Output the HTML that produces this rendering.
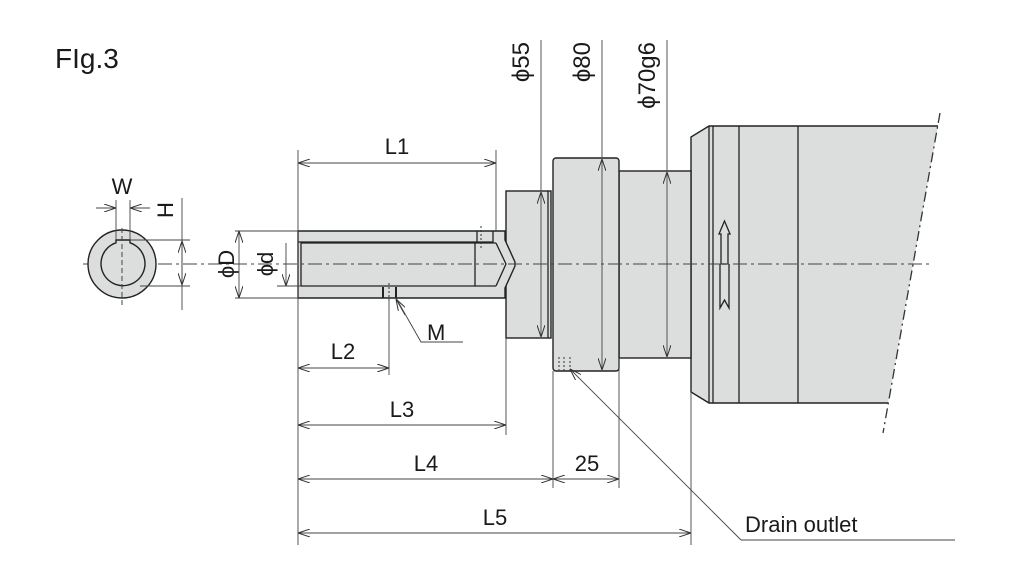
<!DOCTYPE html>
<html><head><meta charset="utf-8"><style>
html,body{margin:0;padding:0;background:#fff;}
svg{display:block;}
text{font-family:"Liberation Sans","DejaVu Sans",sans-serif;fill:#1a1a1a;}
</style></head><body>
<svg width="1024" height="577" viewBox="0 0 1024 577" xmlns="http://www.w3.org/2000/svg">
<defs>
<marker id="a" viewBox="0 0 12 8" refX="12" refY="4" markerWidth="12" markerHeight="8" orient="auto-start-reverse" markerUnits="userSpaceOnUse">
<path d="M0,0 L12,4 L0,8" fill="none" stroke="#333" stroke-width="1"/>
</marker>
</defs>
<text x="55" y="68" font-size="28">FIg.3</text>

<!-- motor body fill + outline without right edge -->
<path d="M691,137 L709,126 L938,126 L888,403 L709,403 L691,392 Z" fill="#dcdddd" stroke="none"/>
<path d="M938,126 L709,126 L691,137 L691,392 L709,403 L888,403" fill="none" stroke="#222" stroke-width="1.4"/>
<g fill="#dcdddd" stroke="#222" stroke-width="1.4">
<rect x="619" y="171" width="72" height="187"/>
<rect x="553" y="158" width="66" height="213" rx="3"/>
<rect x="506" y="191" width="45" height="147"/>
<path d="M298,231 L505,231 L505,240 L515,262 L515,266 L505,288 L505,298 L298,298 Z"/>
</g>
<g fill="none" stroke="#222" stroke-width="1.3">
<line x1="548" y1="191" x2="548" y2="338"/>
<line x1="713" y1="126" x2="713" y2="403"/>
<line x1="739" y1="126" x2="739" y2="403"/>
<line x1="798" y1="126" x2="798" y2="403"/>
<line x1="709" y1="126" x2="709" y2="403"/>
<line x1="298" y1="242" x2="493" y2="242"/>
<path d="M301,243 L475,243 L475,286 L301,286 Z"/>
<line x1="475" y1="243" x2="496" y2="243"/>
<line x1="475" y1="286" x2="496" y2="286"/>
<path d="M496,243 L506,264 L496,286"/>
<line x1="477" y1="231" x2="477" y2="243"/>
<line x1="493" y1="231" x2="493" y2="243"/>
<line x1="383" y1="287" x2="383" y2="298" stroke-width="2"/>
<line x1="396" y1="287" x2="396" y2="298" stroke-width="2"/>
<path d="M724.5,221 L719,234 L721,234 L721,264 L728,264 L728,234 L730,234 Z"/>
<path d="M720,264 L720,308 L724.5,300 L729,308 L729,264"/>
</g>
<g stroke="#333" stroke-width="1" stroke-dasharray="2,2">
<line x1="559" y1="357" x2="559" y2="370"/><line x1="564" y1="357" x2="564" y2="372"/><line x1="570" y1="357" x2="570" y2="372"/>
<line x1="481" y1="226" x2="481" y2="248"/><line x1="389" y1="283" x2="389" y2="302"/>
</g>
<line x1="940" y1="113" x2="883" y2="433" stroke="#333" stroke-width="1.3" stroke-dasharray="10,4,2,4"/>
<line x1="83" y1="264" x2="930" y2="264" stroke="#444" stroke-width="1" stroke-dasharray="14,4,3,4"/>

<circle cx="122" cy="264" r="34" fill="#dcdddd" stroke="#222" stroke-width="1.4"/>
<path d="M116,242.8 L116,240 L130,240 L130,242.8 A22,22 0 1 1 116,242.8 Z" fill="#dcdddd" stroke="#222" stroke-width="1.4"/>
<line x1="122" y1="228" x2="122" y2="305" stroke="#444" stroke-width="1" stroke-dasharray="5,3"/>

<g stroke="#444" stroke-width="0.9" fill="none">
<line x1="116" y1="200" x2="116" y2="240"/><line x1="130" y1="200" x2="130" y2="240"/>
<line x1="96" y1="208" x2="116" y2="208" marker-end="url(#a)"/>
<line x1="150" y1="208" x2="130" y2="208" marker-end="url(#a)"/>
<line x1="130" y1="240" x2="190" y2="240"/><line x1="140" y1="286" x2="190" y2="286"/>
<line x1="182" y1="198" x2="182" y2="310"/>
<line x1="182" y1="241" x2="182" y2="285" marker-start="url(#a)" marker-end="url(#a)"/>
<line x1="235" y1="231" x2="298" y2="231"/><line x1="235" y1="298" x2="298" y2="298"/>
<line x1="239" y1="231" x2="239" y2="298" marker-start="url(#a)" marker-end="url(#a)"/>
<line x1="277" y1="286" x2="301" y2="286"/>
<line x1="286" y1="243" x2="286" y2="286" marker-end="url(#a)"/>
<line x1="298" y1="150" x2="298" y2="545"/>
<line x1="496" y1="150" x2="496" y2="231"/>
<line x1="298" y1="163" x2="496" y2="163" marker-start="url(#a)" marker-end="url(#a)"/>
<line x1="389" y1="298" x2="389" y2="375"/>
<line x1="298" y1="368" x2="389" y2="368" marker-start="url(#a)" marker-end="url(#a)"/>
<line x1="506" y1="338" x2="506" y2="435"/>
<line x1="298" y1="425" x2="506" y2="425" marker-start="url(#a)" marker-end="url(#a)"/>
<line x1="553" y1="371" x2="553" y2="488"/>
<line x1="619" y1="358" x2="619" y2="488"/>
<line x1="298" y1="479" x2="553" y2="479" marker-start="url(#a)" marker-end="url(#a)"/>
<line x1="553" y1="479" x2="619" y2="479" marker-start="url(#a)" marker-end="url(#a)"/>
<line x1="691" y1="392" x2="691" y2="545"/>
<line x1="298" y1="533" x2="691" y2="533" marker-start="url(#a)" marker-end="url(#a)"/>
<line x1="541" y1="40" x2="541" y2="191"/>
<line x1="541" y1="192" x2="541" y2="337" marker-start="url(#a)" marker-end="url(#a)"/>
<line x1="602" y1="40" x2="602" y2="158"/>
<line x1="602" y1="159" x2="602" y2="370" marker-start="url(#a)" marker-end="url(#a)"/>
<line x1="667" y1="40" x2="667" y2="171"/>
<line x1="667" y1="172" x2="667" y2="357" marker-start="url(#a)" marker-end="url(#a)"/>
<polyline points="396,298 421,342 463,342"/>
<line x1="405" y1="315" x2="396" y2="299" marker-end="url(#a)"/>
<polyline points="741,540 955,540"/>
<line x1="741" y1="540" x2="570" y2="369" marker-end="url(#a)"/>
</g>

<g font-size="22">
<text x="122" y="194" text-anchor="middle">W</text>
<text transform="translate(173,210) rotate(-90)" text-anchor="middle">H</text>
<text transform="translate(234,264) rotate(-90)" text-anchor="middle">ϕD</text>
<text transform="translate(273,264) rotate(-90)" text-anchor="middle">ϕd</text>
<text x="397" y="154" text-anchor="middle">L1</text>
<text x="427" y="340">M</text>
<text x="343" y="359" text-anchor="middle">L2</text>
<text x="402" y="417" text-anchor="middle">L3</text>
<text x="426" y="471" text-anchor="middle">L4</text>
<text x="587" y="471" text-anchor="middle">25</text>
<text x="495" y="525" text-anchor="middle">L5</text>
<text x="745" y="532">Drain outlet</text>
</g>
<g font-size="24">
<text transform="translate(529,42) rotate(-90)" text-anchor="end">ϕ55</text>
<text transform="translate(590,42) rotate(-90)" text-anchor="end">ϕ80</text>
<text transform="translate(655,42) rotate(-90)" text-anchor="end">ϕ70g6</text>
</g>
</svg>
</body></html>
